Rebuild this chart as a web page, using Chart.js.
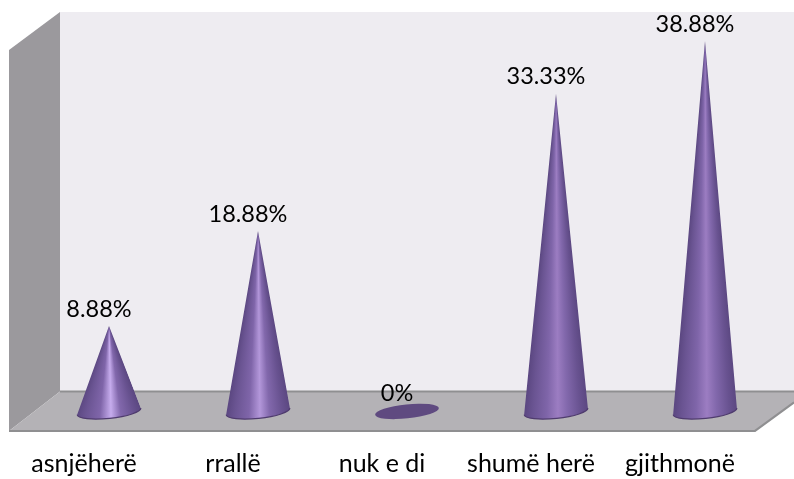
<!DOCTYPE html>
<html><head><meta charset="utf-8">
<style>html,body{margin:0;padding:0;background:#fff}canvas{display:block}</style>
<script src="https://cdn.jsdelivr.net/npm/chart.js@4"></script>
</head><body><canvas id="c" width="794" height="479"></canvas>
<script>
const categories = ["asnjëherë","rrallë","nuk e di","shumë herë","gjithmonë"];
const percentValues = [8.88,18.88,0,33.33,38.88];
const valueLabels = ["8.88%","18.88%","0%","33.33%","38.88%"];
const FONT = "Lato, Carlito, sans-serif";

function poly(ctx, pts, fill){
  ctx.beginPath(); pts.forEach((p,i)=> i?ctx.lineTo(p[0],p[1]):ctx.moveTo(p[0],p[1]));
  ctx.closePath(); ctx.fillStyle=fill; ctx.fill();
}
function hex(c){return [parseInt(c.slice(1,3),16),parseInt(c.slice(3,5),16),parseInt(c.slice(5,7),16)];}
function mix(a,b,t){const x=hex(a),y=hex(b);return x.map((v,i)=>v+(y[i]-v)*t);}
function toHex(c){return "#"+c.map(v=>Math.round(v).toString(16).padStart(2,"0")).join("");}
const scene3d = {
  id:"scene3d",
  beforeDatasetsDraw(chart){
    const ctx=chart.ctx, b=chart.chartArea.bottom;
    ctx.save();
    const wallL=60, wallT=12, backY=b-19, frontY=b+20.5, leftX=9, W=chart.width;
    poly(ctx,[[wallL,wallT],[W,wallT],[W,backY],[wallL,backY]],"#eeecf1");
    poly(ctx,[[leftX,wallT+38],[wallL,wallT],[wallL,backY],[leftX,frontY]],"#9b999d");
    poly(ctx,[[wallL,backY],[W,backY],[W,backY+11],[755,frontY],[leftX,frontY]],"#b4b2b6");
    ctx.strokeStyle="#8f8f91"; ctx.lineWidth=2;
    ctx.beginPath();
    ctx.moveTo(wallL,backY); ctx.lineTo(W,backY);
    ctx.moveTo(leftX,frontY); ctx.lineTo(755,frontY); ctx.lineTo(W,backY+11);
    ctx.stroke();
    ctx.restore();
  },
  afterDatasetsDraw(chart){
    const ctx=chart.ctx, meta=chart.getDatasetMeta(0);
    ctx.save();
    meta.data.forEach((bar,i)=>{
      const rx=bar.width/2, ry=7, rot=-6*Math.PI/180;
      const cx=bar.x, cy=bar.base+1, tipY=bar.y, h=bar.base-bar.y;
      if(h<1){
        ctx.beginPath(); ctx.ellipse(cx,cy,rx,ry,rot,0,Math.PI*2);
        ctx.fillStyle="#5f4a80"; ctx.fill();
        return;
      }
      const hi=toHex(mix("#c6aced","#9c7dc2",Math.min(1,Math.max(0,(h-85)/210))));
      const silhouette=()=>{
        ctx.beginPath(); ctx.moveTo(cx,tipY);
        ctx.ellipse(cx,cy,rx,ry,rot,Math.PI,0,true);
        ctx.closePath();
      };
      ctx.save();
      silhouette(); ctx.clip();
      const bottom=Math.ceil(cy+ry+2);
      for(let y=Math.floor(tipY);y<bottom;y++){
        const w=Math.max(0.5,Math.min(rx+1,(rx*(y+0.5-tipY))/(cy-tipY)));
        const g=ctx.createLinearGradient(cx-w,0,cx+w,0);
        g.addColorStop(0,"#5a4680");
        g.addColorStop(0.14,"#6a5492");
        g.addColorStop(0.36,"#7f65a9");
        g.addColorStop(0.53,hi);
        g.addColorStop(0.68,"#8268ac");
        g.addColorStop(0.88,"#685290");
        g.addColorStop(1,"#5c4882");
        ctx.fillStyle=g;
        ctx.fillRect(cx-w-1,y,2*w+2,1);
      }
      ctx.restore();
      ctx.beginPath(); ctx.ellipse(cx,cy,rx,ry,rot,Math.PI,0,true);
      ctx.strokeStyle="#4f3b6e"; ctx.lineWidth=1.2; ctx.stroke();
    });
    ctx.fillStyle="#000"; ctx.font=`23.5px ${FONT}`; ctx.textAlign="center"; ctx.textBaseline="middle";
    meta.data.forEach((bar,i)=>{
      ctx.fillText(valueLabels[i],bar.x-10,bar.y-17);
    });
    ctx.restore();
  }
};
new Chart(document.getElementById("c"),{
  type:"bar",
  data:{labels:categories,datasets:[{data:percentValues,backgroundColor:"rgba(0,0,0,0)",borderWidth:0,categoryPercentage:1,barPercentage:0.43}]},
  options:{
    responsive:false,animation:false,
    layout:{padding:{left:34.5,right:14.5,top:30.4,bottom:0}},
    plugins:{legend:{display:false},tooltip:{enabled:false},title:{display:false}},
    scales:{
      y:{display:false,min:0,max:40},
      x:{grid:{display:false},border:{display:false},
         afterFit(s){s.height=68.6;},
         ticks:{color:"#000",font:{family:FONT,size:25},padding:31,labelOffset:-25,maxRotation:0,minRotation:0,autoSkip:false}}
    }
  },
  plugins:[scene3d]
});
</script></body></html>
